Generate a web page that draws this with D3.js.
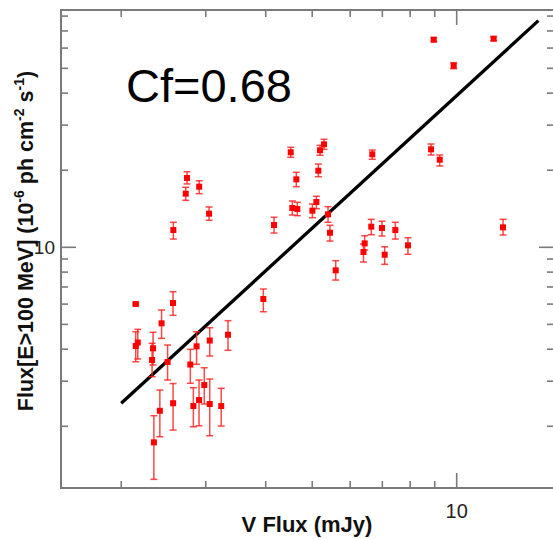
<!DOCTYPE html>
<html><head><meta charset="utf-8">
<script src="https://cdn.jsdelivr.net/npm/d3@7"></script>
<style>html,body{margin:0;padding:0;background:#fff;}svg{display:block;}</style>
</head><body>
<script>
// V flux (mJy)
const vFlux = [2.144,2.564,2.427,2.144,2.165,2.330,2.319,2.498,2.871,3.058,3.338,2.786,2.979,2.905,2.827,2.565,2.407,3.058,3.231,2.339,3.955,
 2.742,2.725,2.907,3.048,2.568,
 4.510,5.191,5.291,6.670,4.633,5.149,4.545,4.655,5.101,5.004,5.394,4.163,5.445,6.638,6.431,6.394,5.596,6.988,7.450,7.079,7.915,
 8.843,9.218,8.958,11.94,9.857,12.49];
// Gamma flux (1e-6 ph cm^-2 s^-1)
const gFlux = [6.006,6.06,5.047,4.116,4.247,4.032,3.63,3.565,4.105,4.324,4.556,3.485,2.898,2.532,2.399,2.46,2.299,2.443,2.399,1.731,6.281,
 18.65,16.2,17.25,13.53,11.68,
 23.5,23.93,25.25,23.08,18.43,19.92,14.24,14.11,15.03,13.9,13.45,12.22,11.4,12.04,10.36,9.585,8.131,11.9,11.68,9.357,10.18,
 24.14,21.99,64.7,65.28,51.2,11.97];
const gLow = [5.95,5.425,4.41,3.574,3.663,3.469,3.122,3.031,3.491,3.763,3.96,2.943,2.443,2.009,1.991,1.933,1.82,1.837,2.004,1.241,5.603,
 17.68,15.26,16.2,12.75,10.77,
 22.47,22.88,24.14,22.07,17.25,18.87,13.37,13.29,14.15,13.05,12.52,11.37,10.58,11.2,9.76,8.76,7.45,11.07,10.77,8.58,9.39,
 22.94,20.78,63.6,64.1,49.85,11.17];
const gHigh = [6.06,6.709,5.69,4.68,4.782,4.656,4.217,4.153,4.68,4.852,5.17,3.996,3.386,3.031,2.829,2.936,2.77,3.059,2.813,2.199,6.873,
 19.74,17.16,18.2,14.37,12.52,
 24.58,25.02,26.42,23.99,19.63,21.15,15.17,14.99,15.82,14.76,14.41,13.1,12.19,12.86,11.1,10.3,8.867,12.64,12.52,10.05,10.9,
 25.32,22.94,65.9,66.5,52.6,12.86];
// regression line end points
const fitX = [2.0, 14.8];
const fitY = [2.46, 76.8];
// ticks
const xTicks = [2,3,4,5,6,7,8,9,10];
const yTicks = [2,3,4,5,6,7,8,9,10,20,30,40,50,60,70,80];
const majorTickLabels = ["10"];
const xTitle = "V Flux (mJy)";
const annotation = "Cf=0.68";

const W = 553, H = 539;
const L = 61, R = 554, T = 10, B = 488;
const x = d3.scaleLog().domain([1.498, 15.95]).range([L, R]);
const y = d3.scaleLog().domain([1.148, 84.5]).range([B, T]);
const FONT = "'Liberation Sans', Arial, Helvetica, sans-serif";
const AX = "#7a7a7a";

const svg = d3.select("body").append("svg").attr("width", W).attr("height", H);

// ticks (inward on all four sides)
const tk = svg.append("g").attr("stroke", AX).attr("stroke-width", 1.6);
xTicks.forEach(v => {
  const len = v === 10 ? 15 : 7;
  tk.append("line").attr("x1", x(v)).attr("x2", x(v)).attr("y1", B).attr("y2", B - len);
  tk.append("line").attr("x1", x(v)).attr("x2", x(v)).attr("y1", T).attr("y2", T + len);
});
yTicks.forEach(v => {
  const len = v === 10 ? 15 : 7;
  tk.append("line").attr("y1", y(v)).attr("y2", y(v)).attr("x1", L).attr("x2", L + len);
  tk.append("line").attr("y1", y(v)).attr("y2", y(v)).attr("x1", R).attr("x2", R - len);
});
// frame
svg.append("rect").attr("x", L).attr("y", T).attr("width", R - L).attr("height", B - T)
  .attr("fill", "none").attr("stroke", AX).attr("stroke-width", 2);

// tick labels
svg.append("text").attr("x", x(10)).attr("y", 518).attr("text-anchor", "middle")
  .attr("font-family", FONT).attr("font-size", 20).attr("fill", "#222").text(majorTickLabels[0]);
svg.append("text").attr("x", 55).attr("y", y(10)).attr("dy", "0.35em").attr("text-anchor", "end")
  .attr("font-family", FONT).attr("font-size", 19).attr("fill", "#222").text(majorTickLabels[0]);

// axis titles
svg.append("text").attr("x", 307).attr("y", 532).attr("text-anchor", "middle")
  .attr("font-family", FONT).attr("font-size", 22).attr("font-weight", "bold").attr("fill", "#111").text(xTitle);

const yt = svg.append("text").attr("transform", "translate(33,241) rotate(-90)")
  .attr("text-anchor", "middle").attr("font-family", FONT).attr("font-size", 21.5)
  .attr("font-weight", "bold").attr("fill", "#111");
const parts = [["Flux[E>100 MeV] (10",0],["-6",1],[" ph cm",0],["-2",1],[" s",0],["-1",1],[")",0]];
let prevSup = 0;
parts.forEach(([t, sup]) => {
  const ts = yt.append("tspan").text(t);
  if (sup) { ts.attr("font-size", 14).attr("dy", -9); prevSup = 1; }
  else if (prevSup) { ts.attr("dy", 9); prevSup = 0; }
});

// annotation
svg.append("text").attr("x", 126).attr("y", 101.5).attr("font-family", FONT)
  .attr("font-size", 47).attr("fill", "#000").text(annotation);

// fit line
svg.append("line").attr("x1", x(fitX[0])).attr("y1", y(fitY[0])).attr("x2", x(fitX[1])).attr("y2", y(fitY[1]))
  .attr("stroke", "#000").attr("stroke-width", 3.3);

// data
const data = vFlux.map((v, i) => ({x: v, y: gFlux[i], lo: gLow[i], hi: gHigh[i]}));
const eg = svg.append("g").attr("stroke", "#ff1a1a").attr("stroke-width", 1.5).attr("stroke-opacity", 0.8);
data.forEach(d => {
  const cx = x(d.x);
  eg.append("line").attr("x1", cx).attr("x2", cx).attr("y1", y(d.lo)).attr("y2", y(d.hi));
  eg.append("line").attr("x1", cx - 3.5).attr("x2", cx + 3.5).attr("y1", y(d.lo)).attr("y2", y(d.lo));
  eg.append("line").attr("x1", cx - 3.5).attr("x2", cx + 3.5).attr("y1", y(d.hi)).attr("y2", y(d.hi));
});
svg.append("g").selectAll("rect").data(data).join("rect")
  .attr("x", d => x(d.x) - 3).attr("y", d => y(d.y) - 3).attr("width", 6).attr("height", 6)
  .attr("fill", "#ff0000");
</script>
</body></html>
